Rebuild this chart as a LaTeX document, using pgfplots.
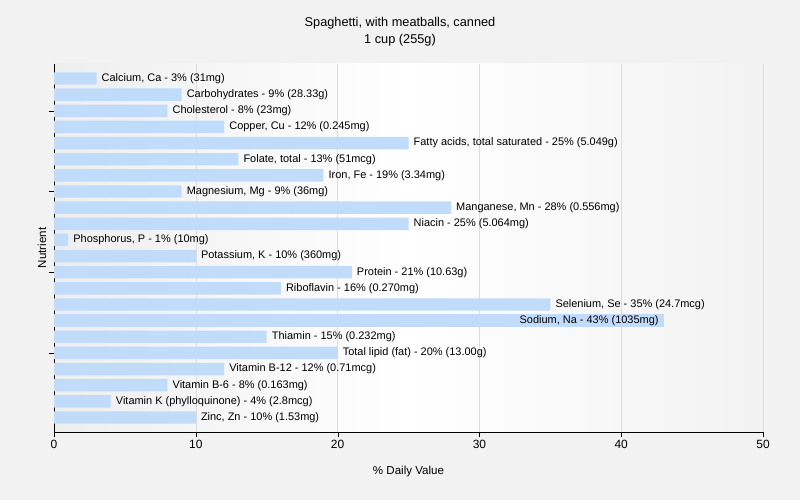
\documentclass[border=0pt]{standalone}
\usepackage{fontspec}
\setmainfont{Liberation Sans}
\usepackage{pgfplots}
\pgfplotsset{compat=1.18}
\usepackage{pgfplotstable}
\definecolor{barblue}{HTML}{C0DCFA}
\definecolor{bgfig}{HTML}{F2F2F2}
\definecolor{bgleft}{HTML}{EEEEEE}
\definecolor{bgright}{HTML}{F2F2F2}
\definecolor{gridc}{HTML}{DCDCDC}

\pgfplotstableread[col sep=semicolon, row sep=\\]{
idx;val;label\\
21;3;Calcium, Ca - 3\% (31mg)\\
20;9;Carbohydrates - 9\% (28.33g)\\
19;8;Cholesterol - 8\% (23mg)\\
18;12;Copper, Cu - 12\% (0.245mg)\\
17;25;Fatty acids, total saturated - 25\% (5.049g)\\
16;13;Folate, total - 13\% (51mcg)\\
15;19;Iron, Fe - 19\% (3.34mg)\\
14;9;Magnesium, Mg - 9\% (36mg)\\
13;28;Manganese, Mn - 28\% (0.556mg)\\
12;25;Niacin - 25\% (5.064mg)\\
11;1;Phosphorus, P - 1\% (10mg)\\
10;10;Potassium, K - 10\% (360mg)\\
9;21;Protein - 21\% (10.63g)\\
8;16;Riboflavin - 16\% (0.270mg)\\
7;35;Selenium, Se - 35\% (24.7mcg)\\
5;15;Thiamin - 15\% (0.232mg)\\
4;20;Total lipid (fat) - 20\% (13.00g)\\
3;12;Vitamin B-12 - 12\% (0.71mcg)\\
2;8;Vitamin B-6 - 8\% (0.163mg)\\
1;4;Vitamin K (phylloquinone) - 4\% (2.8mcg)\\
0;10;Zinc, Zn - 10\% (1.53mg)\\
}\datamain

\pgfplotstableread[col sep=semicolon, row sep=\\]{
idx;val;label\\
6;43;Sodium, Na - 43\% (1035mg)\\
}\datasodium

\begin{document}
\begin{tikzpicture}
\fill[bgfig] (-54bp,-68bp) rectangle (746bp,432bp);
\node[align=center, font=\fontsize{12.8}{16.8}\selectfont] at (346bp,400.5bp) {Spaghetti, with meatballs, canned\\1 cup (255g)};
\begin{axis}[
  at={(0,0)}, anchor=south west,
  scale only axis, width=709bp, height=368bp,
  xmin=0, xmax=50, ymin=-0.9, ymax=21.9,
  axis background/.style={left color=bgleft, right color=bgright, middle color=white},
  axis lines=left, axis line style={-, black},
  xtick={0,10,20,30,40,50}, ytick={4,9,14,19}, yticklabels={,,,},
  tick align=outside, major tick length=5bp, tick style={black},
  xmajorgrids, grid style={gridc},
  /pgf/number format/assume math mode=true,
  ticklabel style={font=\fontsize{12}{14}\selectfont},
  xlabel={\% Daily Value}, ylabel={Nutrient},
  label style={font=\fontsize{11.6}{13}\selectfont},
  xlabel style={at={(axis description cs:0.5,0)}, yshift=-40bp, anchor=center},
  ylabel style={at={(axis description cs:-0.017,0.5)}, anchor=center},
  clip=false,
  point meta=explicit symbolic,
  nodes near coords={\pgfplotspointmeta},
  nodes near coords style={font=\fontsize{11}{13}\selectfont, inner sep=0pt, text=black},
]
\addplot[xbar, bar width=0.77, fill=barblue, draw=none,
  every node near coord/.append style={anchor=west, xshift=5bp}]
  table[x=val, y=idx, meta=label] {\datamain};
\addplot[xbar, bar width=0.77, fill=barblue, draw=none,
  every node near coord/.append style={anchor=east, xshift=-5bp}]
  table[x=val, y=idx, meta=label] {\datasodium};
\end{axis}
\end{tikzpicture}
\end{document}
